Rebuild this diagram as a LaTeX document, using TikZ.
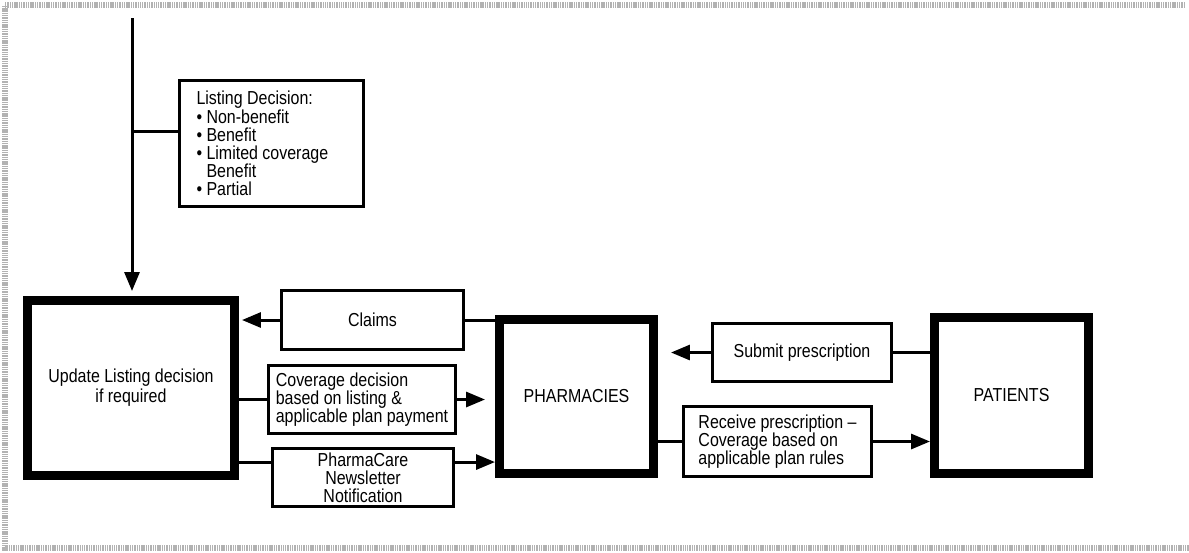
\documentclass[tikz,border=0pt]{standalone}
\usepackage{fontspec}
\setmainfont{Liberation Sans}[FakeStretch=0.85]
\usetikzlibrary{arrows.meta}
\begin{document}
\begin{tikzpicture}[x=0.02cm,y=-0.02cm,
  every node/.style={font=\fontsize{10.7}{10.3}\selectfont},
  bigbox/.style={draw,line width=1.8mm,inner sep=0pt,align=center},
  smallbox/.style={draw,line width=0.6mm,inner sep=0pt},
  conn/.style={line width=0.6mm},
  arr/.style={conn,-{Triangle[length=3.8mm,width=3mm]}}]
\useasboundingbox (0,0) rectangle (1189,552);
\draw[gray!60,line width=3pt,dash pattern=on 0.8pt off 0.5pt] (1185,5) -- (5,5) -- (5,548) -- (1189,548);
\node[bigbox,minimum width=4.14cm,minimum height=3.5cm,font=\fontsize{10.7}{11.5}\selectfont] (upd) at (131,388) {Update Listing decision\\if required};
\node[bigbox,minimum width=3.08cm,minimum height=3.08cm] (pharm) at (576.5,396.5) {PHARMACIES};
\node[bigbox,minimum width=3.08cm,minimum height=3.12cm] (pat) at (1011.5,395.5) {PATIENTS};
\node[smallbox,align=flush left,text width=3cm,minimum width=3.68cm,minimum height=2.52cm] (list) at (271.5,143.5)
  {Listing Decision:\\\textbullet\ Non-benefit\\\textbullet\ Benefit\\\textbullet\ Limited coverage\\\phantom{\textbullet\ }Benefit\\\textbullet\ Partial};
\node[smallbox,minimum width=3.64cm,minimum height=1.18cm] (claims) at (372.5,320) {Claims};
\node[smallbox,align=left,minimum width=3.76cm,minimum height=1.36cm] (cov) at (362,399.5)
  {Coverage decision\\based on listing \&\\applicable plan payment};
\node[smallbox,align=center,minimum width=3.62cm,minimum height=1.16cm] (news) at (363,477.5)
  {PharmaCare\\Newsletter\\Notification};
\node[smallbox,minimum width=3.58cm,minimum height=1.16cm] (sub) at (802,352.5) {Submit prescription};
\node[smallbox,align=left,minimum width=3.76cm,minimum height=1.4cm] (rec) at (777.5,441.5)
  {Receive prescription --\\Coverage based on\\applicable plan rules};
\coordinate (src) at (132,18);
\coordinate (listin) at ([yshift=7pt]list.west);
\coordinate (newsin) at ([yshift=8.8pt]news.west);
\coordinate (newsout) at ([yshift=8.8pt]news.east);
\draw[arr,shorten >=1mm] (src) -- (src |- upd.north);
\draw[conn] (listin) -- (listin -| src);
\draw[conn] (pharm.west |- claims.east) -- (claims.east);
\draw[arr,shorten >=0.6mm] (claims.west) -- (upd.east |- claims.west);
\draw[conn] (upd.east |- cov.west) -- (cov.west);
\draw[arr,shorten >=2mm] (cov.east) -- (pharm.west |- cov.east);
\draw[conn] (upd.east |- newsin) -- (newsin);
\draw[arr] (newsout) -- (pharm.west |- newsout);
\draw[conn] (pat.west |- sub.east) -- (sub.east);
\draw[arr,shorten >=2.6mm] (sub.west) -- (pharm.east |- sub.west);
\draw[conn] (pharm.east |- rec.west) -- (rec.west);
\draw[arr] (rec.east) -- (pat.west |- rec.east);
\end{tikzpicture}
\end{document}
